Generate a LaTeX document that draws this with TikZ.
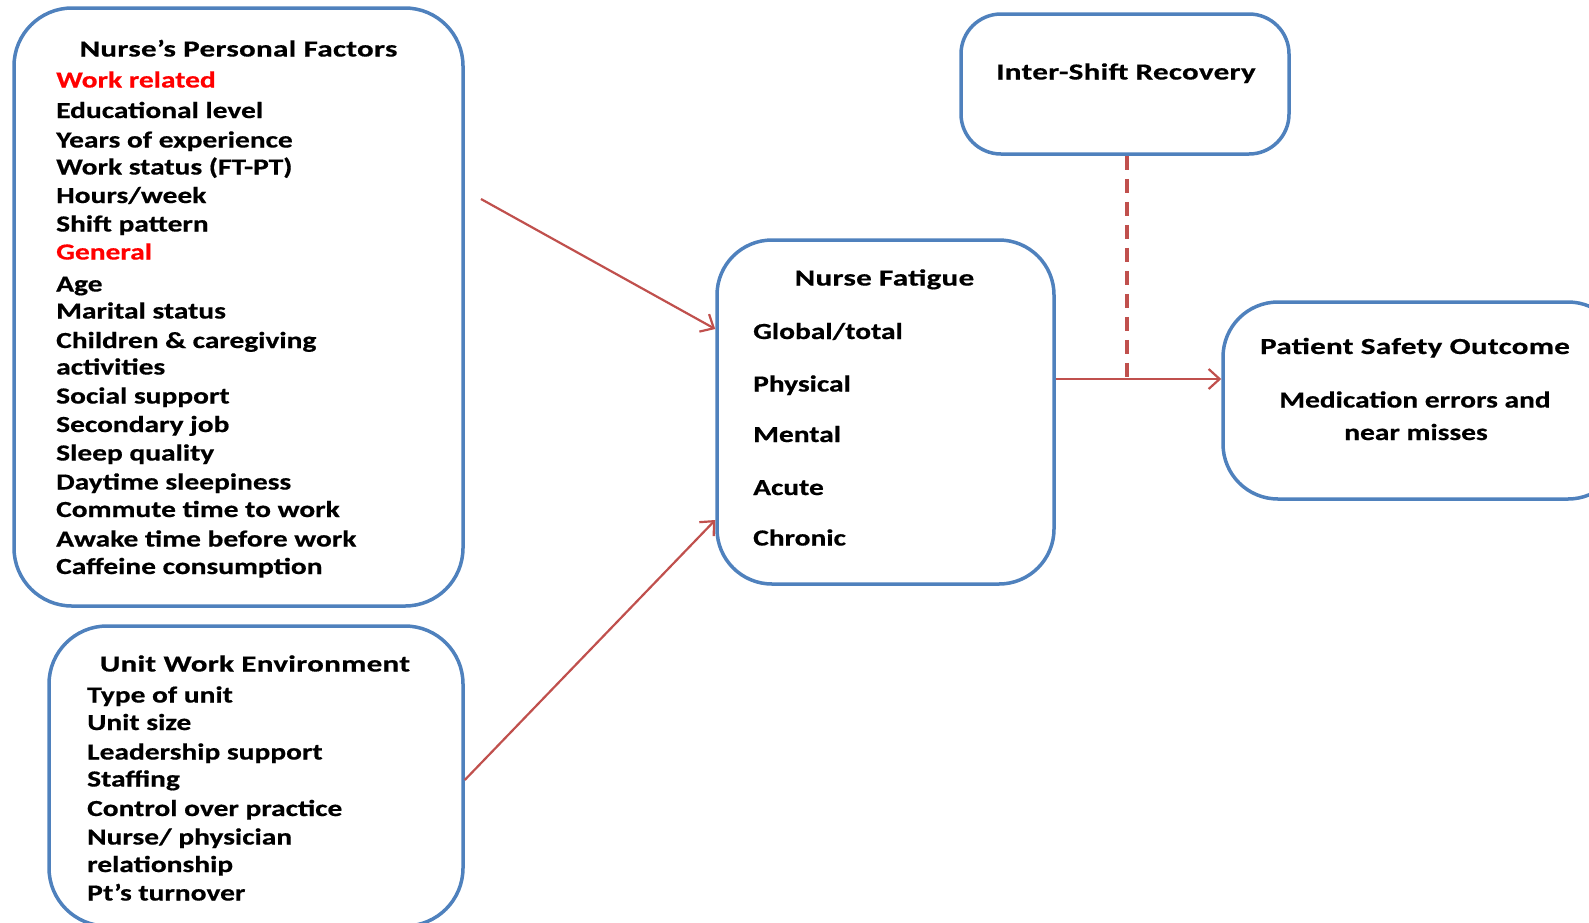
\documentclass[tikz,border=0pt]{standalone}
\usepackage{fontspec}
\setmainfont{Carlito}[FakeStretch=1.28,FakeBold=0.6]
\newfontfamily\ttlfont{Carlito}[FakeStretch=1.35,FakeBold=0.6,LetterSpace=1.3]
\usetikzlibrary{arrows.meta}
\definecolor{boxblue}{RGB}{79,129,189}
\definecolor{arrred}{RGB}{192,80,77}
\tikzset{
  frame/.style={draw=boxblue, line width=3.5pt, rounded corners=58pt, inner sep=0pt},
  arr/.style={draw=arrred, line width=2.2pt, -{Straight Barb[length=11pt,width=20pt,line width=2.2pt]}},
  dashline/.style={draw=arrred, line width=4pt, dash pattern=on 14pt off 9pt},
  txt/.style={anchor=west, inner sep=0pt, text height=20pt, text depth=3pt, font=\fontsize{23}{27}\selectfont\bfseries},
  ctr/.style={txt, anchor=center},
  ttl/.style={anchor=center, inner sep=0pt, text height=20pt, text depth=3pt, font=\ttlfont\fontsize{23}{27}\selectfont\bfseries},
  redtxt/.style={txt, text=red}
}
\begin{document}
\begin{tikzpicture}[x=1pt,y=-1pt]
\useasboundingbox (0,0) rectangle (1589,922);
% boxes
\node[frame, minimum width=449pt, minimum height=598pt] (pers) at (238.5,307) {};
\node[frame, minimum width=414pt, minimum height=300pt] (unit) at (256,776) {};
\node[frame, rounded corners=40pt, minimum width=328pt, minimum height=140pt] (inter) at (1125,84) {};
\node[frame, rounded corners=55pt, minimum width=337pt, minimum height=344pt] (fat) at (885.5,412) {};
\node[frame, rounded corners=55pt, minimum width=400pt, minimum height=197pt] (pat) at (1423,400.5) {};
% personal factors text
\node[ttl] (p0) at (238.5,48) {Nurse’s Personal Factors};
\node[redtxt] (p1) at (56,79) {Work related};
\node[txt] (p2) at (56,109.5) {Educational level};
\node[txt] (p3) at (56,139) {Years of experience};
\node[txt] (p4) at (56,166) {Work status (FT-PT)};
\node[txt] (p5) at (56,194.5) {Hours/week};
\node[txt] (p6) at (56,223) {Shift pattern};
\node[redtxt] (p7) at (56,251) {General};
\node[txt] (p8) at (56,283) {Age};
\node[txt] (p9) at (56,310) {Marital status};
\node[txt] (p10) at (56,339.5) {Children \& caregiving};
\node[txt] (p11) at (56,366) {activities};
\node[txt] (p12) at (56,395) {Social support};
\node[txt] (p13) at (56,423.5) {Secondary job};
\node[txt] (p14) at (56,452) {Sleep quality};
\node[txt] (p15) at (56,481) {Daytime sleepiness};
\node[txt] (p16) at (56,508.5) {Commute time to work};
\node[txt] (p17) at (56,538) {Awake time before work};
\node[txt] (p18) at (56,565.5) {Caffeine consumption};
% unit work environment text
\node[ttl] (u0) at (255,663) {Unit Work Environment};
\node[txt] (u1) at (87,694) {Type of unit};
\node[txt] (u2) at (87,721.5) {Unit size};
\node[txt] (u3) at (87,751) {Leadership support};
\node[txt] (u4) at (87,778) {Staffing};
\node[txt] (u5) at (87,807.5) {Control over practice};
\node[txt] (u6) at (87,836) {Nurse/ physician};
\node[txt] (u7) at (87,863.5) {relationship};
\node[txt] (u8) at (87,892) {Pt’s turnover};
% inter-shift
\node[ttl] (i0) at (1126,71) {Inter-Shift Recovery};
% fatigue
\node[ttl] (f0) at (884.5,277) {Nurse Fatigue};
\node[txt] (f1) at (753,330.5) {Global/total};
\node[txt] (f2) at (753,383) {Physical};
\node[txt] (f3) at (753,433.5) {Mental};
\node[txt] (f4) at (753,486.5) {Acute};
\node[txt] (f5) at (753,537) {Chronic};
% patient safety
\node[ttl] (s0) at (1415,345.5) {Patient Safety Outcome};
\node[ctr] (s1) at (1415,399) {Medication errors and};
\node[ctr] (s2) at (1416,431.5) {near misses};
% connectors
\coordinate (a1) at (481,199);
\coordinate (j) at (1127,379);
\draw[arr] (a1) -- (fat.west |- 0,329);
\draw[arr] (unit.east |- 0,780) -- (fat.west |- 0,520);
\draw[arr] (fat.east |- j) -- (pat.west |- j);
\draw[dashline] (inter.south -| j) -- (j);
\end{tikzpicture}
\end{document}
